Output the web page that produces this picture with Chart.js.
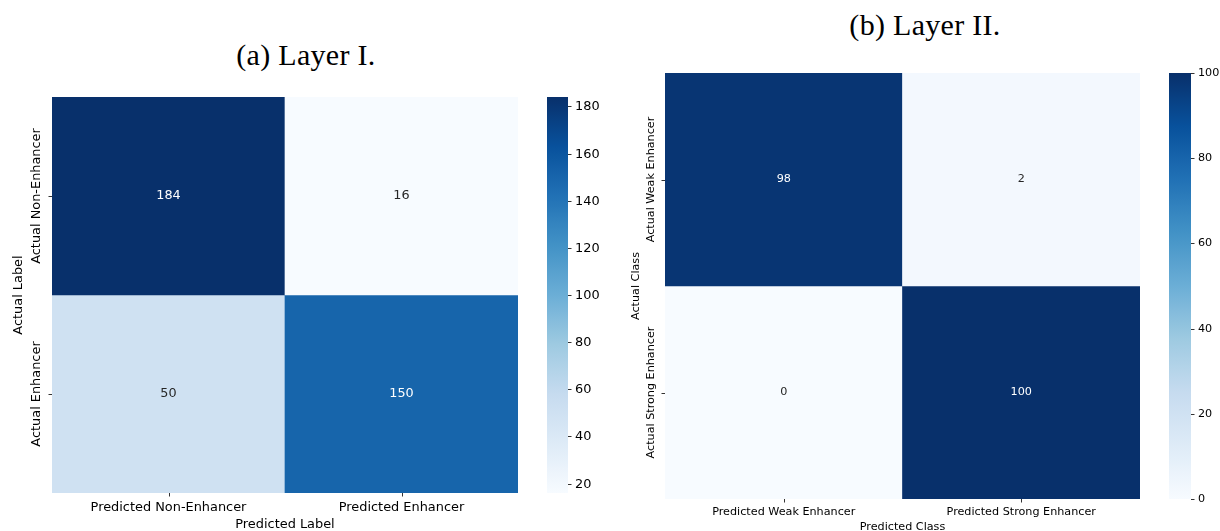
<!DOCTYPE html>
<html>
<head>
<meta charset="utf-8">
<script src="https://cdn.jsdelivr.net/npm/chart.js@4/dist/chart.umd.min.js"></script>
<style>
  html, body { margin: 0; padding: 0; background: #fff; width: 1220px; height: 531px; overflow: hidden; }
  canvas { position: absolute; left: 0; top: 0; pointer-events: none; }
  .title { position: absolute; font-family: "Liberation Serif", "DejaVu Serif", serif; font-size: 30px; color: #000;
           transform: translate(-50%, -50%); white-space: nowrap; line-height: 1; letter-spacing: 0.3px; }
</style>
</head>
<body>
<div class="title" style="left:306px; top:55px;">(a) Layer I.</div>
<div class="title" style="left:925px; top:25px;">(b) Layer II.</div>
<canvas id="heat1" width="1220" height="531"></canvas>
<canvas id="bar1" width="1220" height="531"></canvas>
<canvas id="heat2" width="1220" height="531"></canvas>
<canvas id="bar2" width="1220" height="531"></canvas>
<script>
// ---- Layer I confusion matrix ----
const layer1Predicted = ['Predicted Non-Enhancer', 'Predicted Enhancer'];
const layer1Actual = ['Actual Non-Enhancer', 'Actual Enhancer'];
const layer1Counts = [
  [184, 16],
  [50, 150]
];
const layer1ColorbarTicks = [20, 40, 60, 80, 100, 120, 140, 160, 180];

// ---- Layer II confusion matrix ----
const layer2Predicted = ['Predicted Weak Enhancer', 'Predicted Strong Enhancer'];
const layer2Actual = ['Actual Weak Enhancer', 'Actual Strong Enhancer'];
const layer2Counts = [
  [98, 2],
  [0, 100]
];
const layer2ColorbarTicks = [0, 20, 40, 60, 80, 100];

// "Blues" sequential colormap stops
const BLUES = ['#f7fbff', '#deebf7', '#c6dbef', '#9ecae1', '#6baed6', '#4292c6', '#2171b5', '#08519c', '#08306b'];

function hexToRgb(h) {
  return [parseInt(h.slice(1, 3), 16), parseInt(h.slice(3, 5), 16), parseInt(h.slice(5, 7), 16)];
}
function blues(t) {
  t = Math.max(0, Math.min(1, t));
  const pos = t * (BLUES.length - 1);
  const i = Math.min(Math.floor(pos), BLUES.length - 2);
  const f = pos - i;
  const a = hexToRgb(BLUES[i]), b = hexToRgb(BLUES[i + 1]);
  return a.map((v, k) => Math.round(v + (b[k] - v) * f));
}
function rgbStr(c) { return 'rgb(' + c.join(',') + ')'; }
function luminance(c) {
  const lin = c.map(v => { v /= 255; return v <= 0.03928 ? v / 12.92 : Math.pow((v + 0.055) / 1.055, 2.4); });
  return 0.2126 * lin[0] + 0.7152 * lin[1] + 0.0722 * lin[2];
}

const FONT = '"DejaVu Sans", "Liberation Sans", sans-serif';

// Draws cell annotations, tick marks, tick labels and axis titles for a heatmap.
const heatmapText = {
  id: 'heatmapText',
  afterDatasetsDraw(chart, args, opts) {
    const { ctx, chartArea: area, scales: { x, y } } = chart;
    const counts = opts.counts, nRows = counts.length;
    const vmin = Math.min(...counts.flat()), vmax = Math.max(...counts.flat());
    ctx.save();
    // annotations
    ctx.font = opts.annotSize + 'px ' + FONT;
    ctx.textAlign = 'center';
    ctx.textBaseline = 'middle';
    counts.forEach((row, r) => {
      row.forEach((v, c) => {
        const col = blues((v - vmin) / (vmax - vmin));
        ctx.fillStyle = luminance(col) < 0.408 ? '#ffffff' : '#262626';
        ctx.fillText(String(v), x.getPixelForValue(c), y.getPixelForValue(nRows - r - 0.5));
      });
    });
    // tick marks
    ctx.strokeStyle = '#333';
    ctx.lineWidth = 1;
    ctx.beginPath();
    opts.predicted.forEach((_, c) => {
      const px = Math.round(x.getPixelForValue(c)) + 0.5;
      ctx.moveTo(px, area.bottom); ctx.lineTo(px, area.bottom + 3.5);
    });
    opts.actual.forEach((_, r) => {
      const py = Math.round(y.getPixelForValue(nRows - r - 0.5)) + 0.5;
      ctx.moveTo(area.left, py); ctx.lineTo(area.left - 3.5, py);
    });
    ctx.stroke();
    // tick labels
    ctx.fillStyle = '#000';
    ctx.font = opts.labelSize + 'px ' + FONT;
    opts.predicted.forEach((lab, c) => {
      ctx.fillText(lab, x.getPixelForValue(c), area.bottom + opts.xLabelOffset);
    });
    opts.actual.forEach((lab, r) => {
      ctx.save();
      ctx.translate(area.left - opts.yLabelOffset, y.getPixelForValue(nRows - r - 0.5));
      ctx.rotate(-Math.PI / 2);
      ctx.fillText(lab, 0, 0);
      ctx.restore();
    });
    // axis titles
    ctx.fillText(opts.xTitle, (area.left + area.right) / 2, area.bottom + opts.xTitleOffset);
    ctx.save();
    ctx.translate(area.left - opts.yTitleOffset, (area.top + area.bottom) / 2);
    ctx.rotate(-Math.PI / 2);
    ctx.fillText(opts.yTitle, 0, 0);
    ctx.restore();
    ctx.restore();
  }
};

// Draws ticks and labels on the right side of a colorbar.
const colorbarTicks = {
  id: 'colorbarTicks',
  afterDatasetsDraw(chart, args, opts) {
    const { ctx, chartArea: area, scales: { y } } = chart;
    ctx.save();
    ctx.strokeStyle = '#333';
    ctx.lineWidth = 1;
    ctx.fillStyle = '#000';
    ctx.font = opts.labelSize + 'px ' + FONT;
    ctx.textAlign = 'left';
    ctx.textBaseline = 'middle';
    opts.ticks.forEach(t => {
      const py = Math.round(y.getPixelForValue(t)) + 0.5;
      ctx.beginPath();
      ctx.moveTo(area.right, py); ctx.lineTo(area.right + 3.5, py);
      ctx.stroke();
      ctx.fillText(String(t), area.right + 7, py);
    });
    ctx.restore();
  }
};

function makeHeatmap(id, predicted, actual, counts, padding, text) {
  const nRows = counts.length;
  const vmin = Math.min(...counts.flat()), vmax = Math.max(...counts.flat());
  const datasets = counts.map((row, r) => ({
    label: actual[r],
    data: row.map(() => [nRows - r - 1, nRows - r]),
    backgroundColor: row.map(v => rgbStr(blues((v - vmin) / (vmax - vmin)))),
    borderWidth: 0,
    borderSkipped: false,
    barPercentage: 1,
    categoryPercentage: 1,
    grouped: false
  }));
  return new Chart(document.getElementById(id), {
    type: 'bar',
    data: { labels: predicted, datasets },
    options: {
      responsive: false,
      animation: false,
      devicePixelRatio: 1,
      layout: { padding },
      scales: {
        x: { type: 'category', display: false, offset: true },
        y: { type: 'linear', display: false, min: 0, max: nRows }
      },
      plugins: {
        legend: { display: false },
        tooltip: { enabled: false },
        heatmapText: Object.assign({ counts, predicted, actual }, text)
      }
    },
    plugins: [heatmapText]
  });
}

function makeColorbar(id, counts, ticks, padding, labelSize) {
  const vmin = Math.min(...counts.flat()), vmax = Math.max(...counts.flat());
  return new Chart(document.getElementById(id), {
    type: 'bar',
    data: {
      labels: [''],
      datasets: [{
        data: [[vmin, vmax]],
        backgroundColor: (c) => {
          const area = c.chart.chartArea;
          if (!area) return BLUES[4];
          const g = c.chart.ctx.createLinearGradient(0, area.bottom, 0, area.top);
          for (let i = 0; i <= 32; i++) g.addColorStop(i / 32, rgbStr(blues(i / 32)));
          return g;
        },
        borderWidth: 0,
        borderSkipped: false,
        barPercentage: 1,
        categoryPercentage: 1
      }]
    },
    options: {
      responsive: false,
      animation: false,
      devicePixelRatio: 1,
      layout: { padding },
      scales: {
        x: { type: 'category', display: false, offset: true },
        y: { type: 'linear', display: false, min: vmin, max: vmax }
      },
      plugins: {
        legend: { display: false },
        tooltip: { enabled: false },
        colorbarTicks: { ticks, labelSize }
      }
    },
    plugins: [colorbarTicks]
  });
}

makeHeatmap('heat1', layer1Predicted, layer1Actual, layer1Counts,
  { left: 52, right: 702, top: 97, bottom: 38 },
  { annotSize: 12.8, labelSize: 12.9, xTitle: 'Predicted Label', yTitle: 'Actual Label',
    xLabelOffset: 15, xTitleOffset: 32, yLabelOffset: 15, yTitleOffset: 33 });
makeColorbar('bar1', layer1Counts, layer1ColorbarTicks,
  { left: 547, right: 652, top: 97, bottom: 38 }, 12.9);

makeHeatmap('heat2', layer2Predicted, layer2Actual, layer2Counts,
  { left: 665, right: 80, top: 73, bottom: 32 },
  { annotSize: 11.2, labelSize: 11.2, xTitle: 'Predicted Class', yTitle: 'Actual Class',
    xLabelOffset: 13, xTitleOffset: 28, yLabelOffset: 13.5, yTitleOffset: 29 });
makeColorbar('bar2', layer2Counts, layer2ColorbarTicks,
  { left: 1169, right: 29, top: 73, bottom: 32 }, 11.2);
</script>
</body>
</html>
